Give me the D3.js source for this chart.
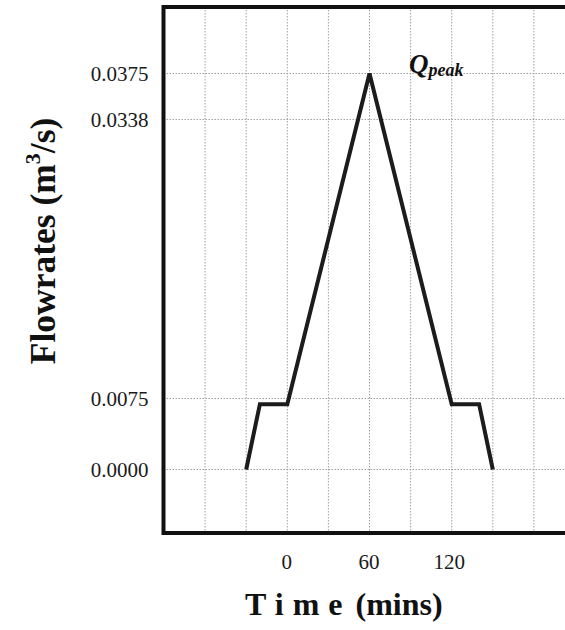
<!DOCTYPE html>
<html>
<head>
<meta charset="utf-8">
<script src="https://cdn.jsdelivr.net/npm/d3@7"></script>
<style>
  html, body { margin: 0; padding: 0; background: #ffffff; }
  svg { display: block; }
  text { font-family: "Liberation Serif", "DejaVu Serif", serif; }
</style>
</head>
<body>
<div id="chart"></div>
<script>
// ---- data ----
const timeMins = [-30, -20, 0, 60, 120, 140, 150];
const flowrates = [0.0000, 0.0069, 0.0069, 0.0375, 0.0069, 0.0069, 0.0000];
const xTickValues = [0, 60, 120];
const yTickValues = [0.0000, 0.0075, 0.0338, 0.0375];
const yTickLabels = ["0.0000", "0.0075", "0.0338", "0.0375"];
const xGridValues = [-60, -30, 0, 30, 60, 90, 120, 150, 180, 210];
const peakLabel = "Q";
const peakSub = "peak";

// ---- layout ----
const W = 565, H = 630;
const frame = { left: 163.5, top: 7, bottom: 533, right: 620 };

const svg = d3.select("#chart").append("svg")
  .attr("width", W).attr("height", H);

svg.append("rect").attr("width", W).attr("height", H).attr("fill", "#ffffff");

const x = d3.scaleLinear().domain([-90, 210]).range([frame.left + 0.5, 575]);
// the reference places its labelled levels unevenly; reproduce with a piecewise scale
const y = d3.scaleLinear()
  .domain([0, 0.0075, 0.0338, 0.0375])
  .range([469.5, 398.5, 119.5, 73.5]);

svg.append("clipPath").attr("id", "plotclip")
  .append("rect")
  .attr("x", frame.left).attr("y", frame.top)
  .attr("width", frame.right - frame.left).attr("height", frame.bottom - frame.top);

const grid = svg.append("g").attr("clip-path", "url(#plotclip)");

grid.selectAll("line.vg").data(xGridValues).enter().append("line")
  .attr("class", "vg")
  .attr("x1", d => x(d)).attr("x2", d => x(d))
  .attr("y1", frame.top).attr("y2", frame.bottom)
  .attr("stroke", "#a0a0a0").attr("stroke-width", 1)
  .attr("stroke-dasharray", "1.5,1.5");

grid.selectAll("line.hg").data(yTickValues).enter().append("line")
  .attr("class", "hg")
  .attr("x1", frame.left).attr("x2", frame.right)
  .attr("y1", d => y(d)).attr("y2", d => y(d))
  .attr("stroke", "#a0a0a0").attr("stroke-width", 1)
  .attr("stroke-dasharray", "1.5,1.5");

// hydrograph line
const pts = timeMins.map((t, i) => [t, flowrates[i]]);
svg.append("path")
  .datum(pts)
  .attr("fill", "none")
  .attr("stroke", "#1c1c1c")
  .attr("stroke-width", 4)
  .attr("stroke-linejoin", "miter")
  .attr("d", d3.line().x(d => x(d[0])).y(d => y(d[1])));

// frame (left, top, bottom)
svg.append("path")
  .attr("d", `M${frame.right},${frame.top} L${frame.left},${frame.top} L${frame.left},${frame.bottom} L${frame.right},${frame.bottom}`)
  .attr("fill", "none").attr("stroke", "#111").attr("stroke-width", 4);

// y axis labels
const yAxis = d3.axisLeft(y)
  .tickValues(yTickValues)
  .tickFormat((d, i) => yTickLabels[i])
  .tickSize(0).tickPadding(15);
const gy = svg.append("g").attr("transform", `translate(${frame.left},0)`).call(yAxis);
gy.select(".domain").remove();
gy.selectAll("text").attr("font-size", 21).attr("fill", "#1a1a1a")
  .attr("font-family", "Liberation Serif, serif");

// x axis labels
const xAxis = d3.axisBottom(x).tickValues(xTickValues).tickSize(0).tickPadding(21);
const gx = svg.append("g").attr("transform", `translate(0,${frame.bottom})`).call(xAxis);
gx.select(".domain").remove();
gx.selectAll("text").attr("font-size", 21).attr("fill", "#1a1a1a")
  .attr("font-family", "Liberation Serif, serif")
  .attr("dx", (d, i) => (i === 2 ? -3 : -1));

// Q peak label
const q = svg.append("text")
  .attr("x", 409).attr("y", 73)
  .attr("font-weight", "bold").attr("font-style", "italic")
  .attr("font-size", 27).attr("fill", "#111");
q.append("tspan").text(peakLabel);
q.append("tspan").attr("font-size", 18).attr("dy", 3).text(peakSub);

// axis titles
const xt = svg.append("text")
  .attr("x", 245).attr("y", 615)
  .attr("font-weight", "bold").attr("font-size", 32).attr("fill", "#111");
xt.append("tspan").attr("letter-spacing", 9).text("Time");
xt.append("tspan").attr("dx", 4).text("(mins)");

const yt = svg.append("text")
  .attr("transform", "translate(55,241) rotate(-90)")
  .attr("text-anchor", "middle")
  .attr("font-weight", "bold").attr("font-size", 35.5).attr("fill", "#111");
yt.append("tspan").text("Flowrates (m");
yt.append("tspan").attr("font-size", 22).attr("dy", -15).text("3");
yt.append("tspan").attr("dy", 15).text("/s)");
</script>
</body>
</html>
